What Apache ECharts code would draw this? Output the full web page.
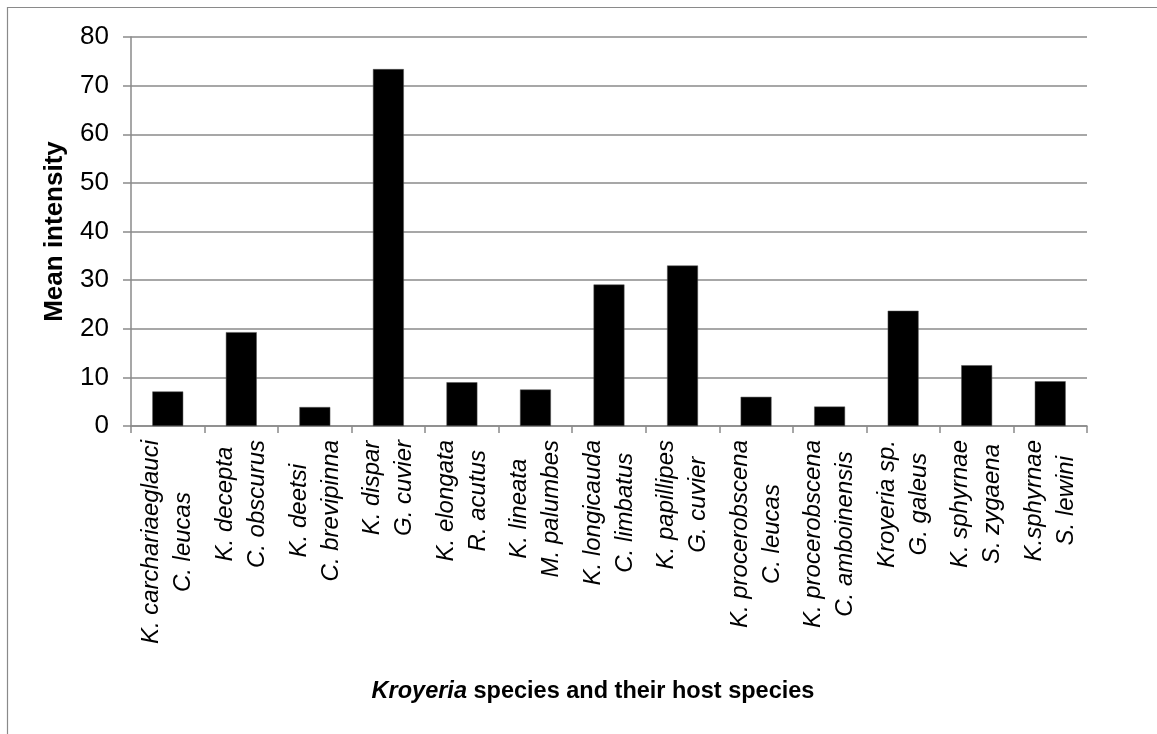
<!DOCTYPE html>
<html>
<head>
<meta charset="utf-8">
<title>Kroyeria mean intensity</title>
<script src="https://cdn.jsdelivr.net/npm/echarts@6/dist/echarts.min.js"></script>
<style>
  html, body { margin: 0; padding: 0; background: #ffffff; }
  #chart { width: 1157px; height: 734px; }
</style>
</head>
<body>
<div id="chart"></div>
<script>
// Parasite species (first label line) and their host species (second line)
const parasites = [
  'K. carchariaeglauci', 'K. decepta', 'K. deetsi', 'K. dispar', 'K. elongata',
  'K. lineata', 'K. longicauda', 'K. papillipes', 'K. procerobscena',
  'K. procerobscena', 'Kroyeria sp.', 'K. sphyrnae', 'K.sphyrnae'
];
const hosts = [
  'C. leucas', 'C. obscurus', 'C. brevipinna', 'G. cuvier', 'R. acutus',
  'M. palumbes', 'C. limbatus', 'G. cuvier', 'C. leucas',
  'C. amboinensis', 'G. galeus', 'S. zygaena', 'S. lewini'
];
// Mean intensity per parasite/host pair
const meanIntensity = [7.1, 19.3, 3.9, 73.4, 9.0, 7.5, 29.1, 33.0, 6.0, 4.0, 23.7, 12.5, 9.2];
// Value axis ticks
const yTicks = [0, 10, 20, 30, 40, 50, 60, 70, 80];

const categories = parasites.map((p, i) => p + '\n' + hosts[i]);
const FONT = '"Liberation Sans", Arial, sans-serif';
const GRAY = '#8a8a8a';

const chart = echarts.init(document.getElementById('chart'), null, { renderer: 'canvas' });

chart.setOption({
  animation: false,
  backgroundColor: '#ffffff',
  graphic: [{
    type: 'rect',
    silent: true,
    shape: { x: 7.5, y: 7.5, width: 1300, height: 900 },
    style: { fill: 'none', stroke: GRAY, lineWidth: 1.2 }
  }],
  grid: { left: 131, right: 70, top: 37, bottom: 308, containLabel: false },
  xAxis: {
    type: 'category',
    data: categories,
    name: '{i|Kroyeria}{b| species and their host species}',
    nameLocation: 'middle',
    nameGap: 254,
    nameTextStyle: {
      padding: [0, 32, 0, 0],
      rich: {
        i: { fontFamily: FONT, fontSize: 23.5, fontWeight: 'bold', fontStyle: 'italic', color: '#000' },
        b: { fontFamily: FONT, fontSize: 23.5, fontWeight: 'bold', color: '#000' }
      }
    },
    axisLine: { show: true, lineStyle: { color: GRAY, width: 1.5 } },
    axisTick: { show: true, alignWithLabel: false, length: 7, lineStyle: { color: GRAY, width: 1.5 } },
    axisLabel: {
      interval: 0,
      rotate: 90,
      margin: 14,
      formatter: (v) => v.split('\n').map(s => '{t|' + s + '}').join('\n'),
      rich: {
        t: { align: 'center', fontFamily: FONT, fontSize: 24, fontStyle: 'italic', color: '#000', lineHeight: 32 }
      }
    }
  },
  yAxis: {
    type: 'value',
    min: yTicks[0],
    max: yTicks[yTicks.length - 1],
    interval: yTicks[1] - yTicks[0],
    name: 'Mean intensity',
    nameLocation: 'middle',
    nameGap: 63,
    nameTextStyle: { fontFamily: FONT, fontSize: 26, fontWeight: 'bold', color: '#000' },
    axisLine: { show: true, lineStyle: { color: GRAY, width: 1.5 } },
    axisTick: { show: true, length: 8, lineStyle: { color: GRAY, width: 1.5 } },
    axisLabel: { margin: 22, fontFamily: FONT, fontSize: 26, color: '#000' },
    splitLine: { show: true, lineStyle: { color: GRAY, width: 1.5 } }
  },
  series: [{
    type: 'bar',
    data: meanIntensity,
    barWidth: '42%',
    itemStyle: { color: '#000000', borderColor: '#555', borderWidth: 0.5 }
  }]
});
</script>
</body>
</html>
